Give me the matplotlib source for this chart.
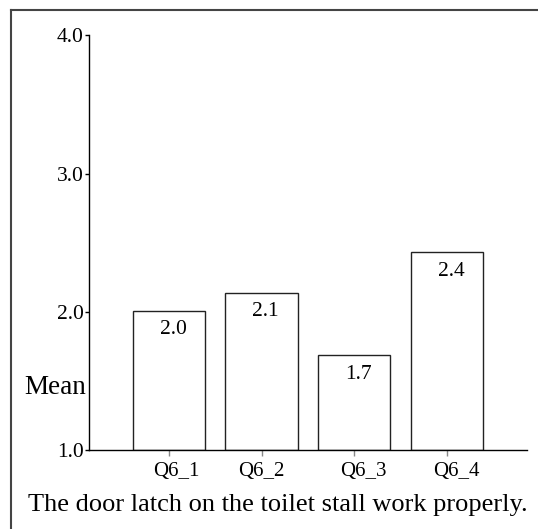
import matplotlib.pyplot as plt
from matplotlib.lines import Line2D

# data
categories = ["Q6_1", "Q6_2", "Q6_3", "Q6_4"]
means = [2.01, 2.14, 1.69, 2.43]
value_labels = ["2.0", "2.1", "1.7", "2.4"]
y_ticks = [1.0, 2.0, 3.0, 4.0]
x_title = "The door latch on the toilet stall work properly."

plt.rcParams["font.family"] = ["Liberation Serif", "DejaVu Serif"]

fig = plt.figure(figsize=(5.38, 5.29), dpi=100)
ax = fig.add_axes([0.1654, 0.1484, 0.8142, 0.7854])

x = list(range(len(categories)))
bottom = y_ticks[0]
ax.bar(
    x,
    [m - bottom for m in means],
    bottom=bottom,
    width=0.78,
    color="white",
    edgecolor="#222222",
    linewidth=1.0,
)

for xi, m, lab in zip(x, means, value_labels):
    ax.annotate(
        lab,
        (xi, m),
        xytext=(3, -7),
        textcoords="offset points",
        ha="center",
        va="top",
        fontsize=15.5,
    )

ax.set_xlim(-0.864, 3.867)
ax.set_ylim(1.0, 4.0)
ax.set_yticks(y_ticks)
ax.set_yticklabels([f"{t:.1f}" for t in y_ticks], fontsize=15.5)
ax.set_xticks(x)
ax.set_xticklabels([])

# the category labels sit a little off their ticks in the original
shifts = [5, 0, 6.5, 7]  # points
for xi, cat, dx in zip(x, categories, shifts):
    ax.annotate(
        cat,
        (xi, 0),
        xycoords=ax.get_xaxis_transform(),
        xytext=(dx, -15),
        textcoords="offset points",
        ha="center",
        va="center",
        fontsize=15,
    )

ax.spines["top"].set_visible(False)
ax.spines["right"].set_visible(False)
ax.spines["left"].set_linewidth(1.0)
ax.spines["bottom"].set_linewidth(1.0)
ax.tick_params(axis="y", direction="out", length=3, width=1.0, pad=1)
ax.tick_params(axis="x", direction="out", length=4, width=1.0, color="#888888")

# y label sits horizontally near the bottom
fig.text(0.046, 1 - 387 / 529, "Mean", fontsize=19.5, ha="left", va="center")
fig.text(0.517, 1 - 505 / 529, x_title, fontsize=19, ha="center", va="center")

# outer frame (left and top edges visible)
fig.add_artist(Line2D([11 / 538, 11 / 538], [0, 1 - 10 / 529], color="#444444", lw=1.5))
fig.add_artist(Line2D([11 / 538, 1], [1 - 10 / 529, 1 - 10 / 529], color="#444444", lw=1.5))

fig.savefig("out.png", dpi=100)
